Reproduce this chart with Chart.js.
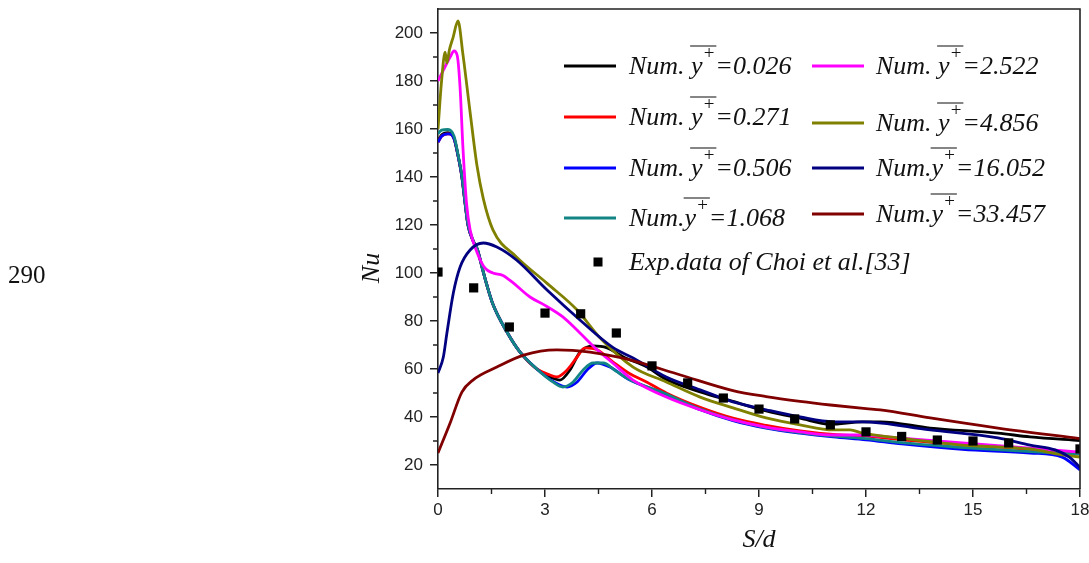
<!DOCTYPE html>
<html>
<head>
<meta charset="utf-8">
<script src="https://cdn.jsdelivr.net/npm/chart.js@4/dist/chart.umd.min.js"></script>
<style>
  html, body { margin: 0; padding: 0; background: #fff; overflow: hidden; }
  #wrap { position: relative; width: 1089px; height: 563px; }
</style>
</head>
<body>
<div id="wrap"><canvas id="c"></canvas></div>
<script>
// ---------------- DATA ----------------
const xTickValues = [0, 3, 6, 9, 12, 15, 18];
const yTickValues = [20, 40, 60, 80, 100, 120, 140, 160, 180, 200];
const xMinorTicks = [1.5, 4.5, 7.5, 10.5, 13.5, 16.5];
const yMinorTicks = [30, 50, 70, 90, 110, 130, 150, 170, 190];

const seriesLabels = [
  'Num. y+=0.026', 'Num. y+=0.271', 'Num. y+=0.506', 'Num.y+=1.068',
  'Num. y+=2.522', 'Num. y+=4.856', 'Num.y+=16.052', 'Num.y+=33.457'
];
const expLabel = 'Exp.data of Choi et al.[33]';

// y+ = 0.026 (black)
const x0026 = [0, 0.1, 0.28, 0.45, 0.56, 0.67, 0.76, 0.84, 0.98, 1.1, 1.26, 1.37, 1.54, 1.93, 2.3, 2.77, 3.1, 3.42, 3.7, 3.98, 4.35, 4.74, 5.2, 5.86, 6.4, 7.35, 8.27, 9.2, 10.15, 11.0, 11.9, 12.4, 13.8, 15.7, 16.6, 18];
const y0026 = [155, 157.5, 158.5, 156, 149, 140, 129, 120, 113.5, 110, 101, 95, 87, 75.5, 67, 60, 57, 55.4, 59.6, 67, 69.6, 68.8, 65, 60.8, 55.6, 50.5, 46.5, 42.5, 39.5, 37, 38, 38, 35.4, 33.3, 31.7, 30.2];
// y+ = 0.271 (red)
const x0271 = [0, 0.1, 0.28, 0.45, 0.56, 0.67, 0.76, 0.84, 0.98, 1.1, 1.26, 1.37, 1.54, 1.93, 2.3, 2.77, 3.14, 3.33, 3.62, 3.9, 4.12, 4.46, 4.9, 5.38, 5.86, 6.4, 7.35, 8.27, 9.2, 10.15, 11.08, 12, 13, 14.7, 16.6, 18];
const y0271 = [154.5, 157, 158, 156, 149, 140, 129, 120, 113.5, 110, 101, 95, 87, 75.5, 67, 60, 57.5, 56.7, 59.6, 65, 68.8, 68, 63, 58, 54.5, 50, 44, 39.5, 36.5, 34.2, 32.7, 32, 30.5, 28.5, 26.5, 24.5];
// y+ = 0.506 (blue)
const x0506 = [0, 0.1, 0.28, 0.45, 0.56, 0.67, 0.76, 0.84, 0.98, 1.1, 1.26, 1.37, 1.54, 1.93, 2.3, 2.77, 3.23, 3.62, 3.9, 4.18, 4.46, 4.82, 5.38, 6.3, 7.35, 8.27, 9.2, 10.15, 11.08, 12, 13, 14.7, 16.6, 17.5, 18];
const y0506 = [154.5, 157, 158, 156, 149, 140, 129, 120, 113.5, 110, 101, 95, 87, 75.5, 67, 60, 54.8, 52.5, 54.6, 59.6, 62.5, 60.8, 55.4, 50, 43, 38.5, 35.4, 33.3, 31.7, 30.5, 28.8, 26.5, 25, 23.3, 18];
// y+ = 1.068 (teal)
const x1068 = [0, 0.1, 0.28, 0.45, 0.56, 0.67, 0.76, 0.84, 0.98, 1.1, 1.26, 1.37, 1.54, 1.93, 2.3, 2.77, 3.23, 3.5, 3.79, 4.07, 4.35, 4.63, 5.0, 5.38, 6.3, 7.35, 8.27, 9.2, 10.15, 11.08, 12, 13, 14.7, 16.6, 18];
const y1068 = [158, 159.5, 159.8, 157, 149.5, 140.5, 129.5, 120.5, 113.8, 110, 101, 95, 87, 75.5, 67, 60, 54.5, 52.5, 54.6, 59.6, 62.5, 62.5, 59, 55.5, 50.2, 43.3, 38.8, 35.6, 33.5, 32, 31, 29.3, 27.3, 25.6, 24.5];
// y+ = 2.522 (magenta)
const x2522 = [0, 0.15, 0.25, 0.34, 0.45, 0.54, 0.62, 0.7, 0.8, 0.9, 1.09, 1.32, 1.54, 1.82, 2.1, 2.58, 3.0, 3.5, 3.98, 4.46, 4.9, 5.47, 6.4, 7.35, 8.27, 9.2, 10.15, 11.08, 11.9, 12.9, 14.7, 16.6, 18];
const y2522 = [180, 184.5, 187.5, 190, 192.5, 190.5, 177, 152, 129, 118, 108.8, 102, 100, 99, 96, 90, 86.5, 81.7, 75, 68, 62.5, 55.4, 48.3, 43, 38.8, 35.8, 33.8, 32.5, 32.5, 31.3, 29.2, 27, 25.4];
// y+ = 4.856 (olive)
const x4856 = [0, 0.1, 0.2, 0.25, 0.32, 0.42, 0.56, 0.7, 0.9, 1.09, 1.27, 1.54, 2.2, 3.05, 3.9, 4.54, 5.47, 6.4, 7.35, 8.27, 9.2, 10.15, 11.08, 11.55, 11.9, 12.9, 14.7, 16.6, 17.5, 18];
const y4856 = [160, 180, 192, 187.5, 193, 198, 205, 191, 167, 145, 131, 118, 106.7, 95.8, 84.6, 73, 60.8, 54.6, 48.3, 43.8, 39.6, 36.7, 34.6, 34.6, 33.3, 31.3, 28.3, 26.7, 24.2, 23.3];
// y+ = 16.052 (navy)
const x16052 = [0, 0.15, 0.25, 0.43, 0.62, 0.9, 1.27, 1.65, 2.2, 3.05, 3.98, 4.9, 5.47, 6.4, 7.35, 8.27, 9.2, 10.15, 11.08, 11.9, 13.8, 15.7, 16.6, 17.3, 17.7, 18];
const y16052 = [58.3, 65, 75, 91.7, 102.5, 109.6, 112.5, 110.8, 105.4, 93, 80.4, 69, 64.6, 56.7, 51.3, 46.3, 43, 40, 38, 38, 34.6, 31.3, 28.3, 26.3, 23.3, 19];
// y+ = 33.457 (maroon)
const x33457 = [0, 0.34, 0.67, 0.98, 1.65, 2.4, 3.33, 4.26, 5.38, 6.8, 8.27, 9.2, 10.15, 11.0, 12.0, 12.4, 13.8, 15.7, 18];
const y33457 = [25, 37.5, 50.4, 55.4, 60.8, 65.8, 68, 67, 63.8, 57.5, 51, 48.5, 46.5, 45, 43.5, 43, 39.6, 35.4, 31];
// Experimental data (Choi et al.)
const xExp = [0, 1, 2, 3, 4, 5, 6, 7, 8, 9, 10, 11, 12, 13, 14, 15, 16, 18];
const yExp = [100.4, 93.8, 77.5, 83.3, 83, 75, 61.3, 54.2, 47.9, 43.3, 39.2, 36.7, 33.8, 31.9, 30.4, 30, 29.2, 26.7];

const seriesX = [x0026, x0271, x0506, x1068, x2522, x4856, x16052, x33457];
const seriesY = [y0026, y0271, y0506, y1068, y2522, y4856, y16052, y33457];
const seriesColors = ['#000000', '#ff0000', '#0000ff', '#138585', '#ff00ff', '#808000', '#000080', '#800000'];

// ---------------- CHART ----------------
const toPts = (xs, ys) => xs.map((x, i) => ({ x: x, y: ys[i] }));

const datasets = seriesLabels.map((lab, i) => ({
  label: lab,
  data: toPts(seriesX[i], seriesY[i]),
  borderColor: seriesColors[i],
  backgroundColor: seriesColors[i],
  borderWidth: 2.8,
  pointRadius: 0,
  cubicInterpolationMode: 'monotone',
  fill: false,
  order: -i
}));
datasets.push({
  label: expLabel,
  data: toPts(xExp, yExp),
  showLine: false,
  pointStyle: 'rect',
  pointRadius: 6.5,
  borderWidth: 0,
  backgroundColor: '#000',
  borderColor: '#000',
  order: -20
});

const AXIS_COLOR = '#222';
const serif = '"Liberation Serif", "Times New Roman", serif';

const overlay = {
  id: 'overlay',
  beforeDraw(chart) {
    const ctx = chart.ctx;
    ctx.save();
    ctx.fillStyle = '#fff';
    ctx.fillRect(0, 0, chart.width, chart.height);
    ctx.restore();
  },
  afterDraw(chart) {
    const ctx = chart.ctx;
    const a = chart.chartArea;
    const xs = chart.scales.x, ys = chart.scales.y;
    ctx.save();
    // frame top & right
    ctx.strokeStyle = AXIS_COLOR;
    ctx.lineWidth = 1.6;
    ctx.beginPath();
    ctx.moveTo(a.left, a.top);
    ctx.lineTo(a.right, a.top);
    ctx.lineTo(a.right, a.bottom);
    ctx.stroke();
    // minor ticks
    ctx.lineWidth = 1.4;
    ctx.beginPath();
    xMinorTicks.forEach(v => {
      const px = xs.getPixelForValue(v);
      ctx.moveTo(px, a.bottom);
      ctx.lineTo(px, a.bottom + 5);
    });
    yMinorTicks.forEach(v => {
      const py = ys.getPixelForValue(v);
      ctx.moveTo(a.left, py);
      ctx.lineTo(a.left - 5, py);
    });
    ctx.stroke();

    // axis titles
    ctx.fillStyle = '#111';
    ctx.font = 'italic 26px ' + serif;
    ctx.textAlign = 'center';
    ctx.textBaseline = 'middle';
    ctx.save();
    ctx.translate(372, 268);
    ctx.rotate(-Math.PI / 2);
    ctx.fillText('Nu', 0, 0);
    ctx.restore();
    ctx.fillText('S/d', (a.left + a.right) / 2, 540);

    // page line number
    ctx.font = '25px ' + serif;
    ctx.textAlign = 'left';
    ctx.textBaseline = 'alphabetic';
    ctx.fillText('290', 8, 283);

    // legend
    const rows = [
      { col: 0, y: 66 }, { col: 0, y: 117 }, { col: 0, y: 168 }, { col: 0, y: 218 },
      { col: 1, y: 66 }, { col: 1, y: 123 }, { col: 1, y: 168 }, { col: 1, y: 214 }
    ];
    const cols = [{ l0: 564, l1: 616, t: 629 }, { l0: 812, l1: 864, t: 876 }];
    const mainFont = 'italic 26px ' + serif;
    const supFont = '19px ' + serif;
    rows.forEach((r, i) => {
      const c = cols[r.col];
      const ds = chart.data.datasets[i];
      ctx.strokeStyle = ds.borderColor;
      ctx.lineWidth = 3;
      ctx.beginPath();
      ctx.moveTo(c.l0, r.y);
      ctx.lineTo(c.l1, r.y);
      ctx.stroke();
      const lab = ds.label;
      const k = lab.indexOf('y+');
      const pre = lab.slice(0, k), post = lab.slice(k + 2);
      const base = r.y + 8;
      ctx.fillStyle = '#111';
      ctx.font = mainFont;
      let x = c.t;
      ctx.fillText(pre, x, base);
      x += ctx.measureText(pre).width;
      const yStart = x;
      ctx.fillText('y', x, base);
      x += ctx.measureText('y').width + 1;
      ctx.font = supFont;
      ctx.fillText('+', x, base - 15);
      x += ctx.measureText('+').width + 1;
      const yEnd = x;
      ctx.font = mainFont;
      ctx.fillText(post, x, base);
      ctx.strokeStyle = '#222';
      ctx.lineWidth = 1.1;
      ctx.beginPath();
      ctx.moveTo(yStart - 1, base - 28);
      ctx.lineTo(yEnd + 1, base - 28);
      ctx.stroke();
    });
    // exp legend
    ctx.fillStyle = '#000';
    ctx.fillRect(598 - 4.5, 262 - 4.5, 9, 9);
    ctx.fillStyle = '#111';
    ctx.font = mainFont;
    ctx.fillText(expLabel, 629, 270);
    ctx.restore();
  }
};

const tickFont = { family: '"Liberation Sans", Arial, sans-serif', size: 17 };

new Chart(document.getElementById('c'), {
  type: 'line',
  data: { datasets: datasets },
  plugins: [overlay],
  options: {
    responsive: true,
    maintainAspectRatio: false,
    animation: false,
    layout: { padding: { left: 0, top: 9, right: 9, bottom: 0 } },
    plugins: { legend: { display: false }, tooltip: { enabled: false } },
    scales: {
      x: {
        type: 'linear',
        min: 0, max: 18,
        afterBuildTicks: s => { s.ticks = xTickValues.map(v => ({ value: v })); },
        afterFit: s => { s.height = 74; s.paddingLeft = 0; s.paddingRight = 0; },
        grid: { drawOnChartArea: false, drawTicks: true, tickLength: 8, color: AXIS_COLOR, lineWidth: 1.5 },
        border: { display: true, color: AXIS_COLOR, width: 1.6 },
        ticks: { color: '#222', padding: 3, maxRotation: 0, font: tickFont }
      },
      y: {
        type: 'linear',
        min: 10, max: 210,
        afterBuildTicks: s => { s.ticks = yTickValues.map(v => ({ value: v })); },
        afterFit: s => { s.width = 438; s.paddingTop = 0; s.paddingBottom = 0; },
        grid: { drawOnChartArea: false, drawTicks: true, tickLength: 8, color: AXIS_COLOR, lineWidth: 1.5 },
        border: { display: true, color: AXIS_COLOR, width: 1.6 },
        ticks: { color: '#222', padding: 7, font: tickFont }
      }
    }
  }
});
</script>
</body>
</html>
